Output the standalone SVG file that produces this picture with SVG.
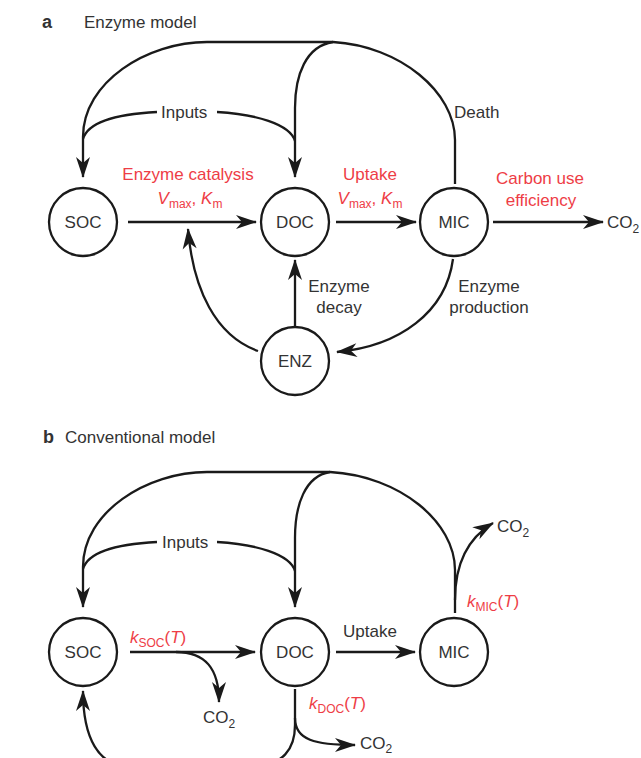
<svg xmlns="http://www.w3.org/2000/svg" width="641" height="758" viewBox="0 0 641 758">
<defs>
<marker id="ah" markerUnits="userSpaceOnUse" viewBox="-22 -8 24 16" markerWidth="24" markerHeight="16" refX="0" refY="0" orient="auto">
<path d="M1,0 L-20,-7 L-14,0 L-20,7 Z" fill="#1a1a1a"/>
</marker>
</defs>
<style>
text{font-family:"Liberation Sans",Arial,sans-serif;font-size:17px;fill:#333;}
.red{fill:#ee3d46;}
.sub{font-size:12px;}
.it{font-style:italic;}
.bold{font-weight:bold;font-size:18px;}
.mid{text-anchor:middle;}
.node circle{fill:#fff;stroke:#1a1a1a;stroke-width:2.3;}
.conn path{fill:none;stroke:#1a1a1a;stroke-width:2.3;}
.arr{marker-end:url(#ah);}
</style>
<rect width="641" height="758" fill="#fff"/>

<!-- Panel titles -->
<text x="42" y="28" class="bold">a</text>
<text x="84" y="28">Enzyme model</text>
<text x="43" y="443" class="bold">b</text>
<text x="65" y="443">Conventional model</text>

<!-- Connectors -->
<g id="connectors" class="conn">
<!-- panel a -->
<path class="arr" d="M333,42 H207 C147,42 83,82 83,137 V177"/>
<path d="M157,112 C118,114 88,122 83,139"/>
<path d="M217,112 C255,114 290,124 295,141"/>
<path class="arr" d="M333,42 C306,46 295,75 295,108 V177"/>
<path d="M333,42 C400,46 455,92 455,140 V184"/>
<path class="arr" d="M128,222 H256"/>
<path class="arr" d="M336,222 H416"/>
<path class="arr" d="M493,222 H603"/>
<path class="arr" d="M258,351 C216,336 193,290 188,229"/>
<path class="arr" d="M295,326 V260"/>
<path class="arr" d="M453,259 C446,312 400,346 337,352"/>
<!-- panel b -->
<path class="arr" d="M330,472 H207 C147,472 83,512 83,567 V607"/>
<path d="M157,542 C118,544 88,552 83,569"/>
<path d="M217,542 C255,544 290,554 295,571"/>
<path class="arr" d="M330,472 C305,476 295,505 295,538 V607"/>
<path d="M330,472 C400,476 455,522 455,570 V613"/>
<path class="arr" d="M455,600 C455,562 468,538 493,523"/>
<path class="arr" d="M130,652 H255"/>
<path class="arr" d="M176,652 C205,652 219,668 219,702"/>
<path class="arr" d="M336,652 H415"/>
<path class="arr" d="M295,689 V725 C295,750 282,765 256,765 H125 C100,765 83,740 83,691"/>
<path class="arr" d="M295,718 C295,740 315,745 355,745"/>
</g>

<!-- Nodes panel a -->
<g id="a-soc" class="node"><circle cx="83" cy="222" r="34"/><text x="83" y="228" class="mid">SOC</text></g>
<g id="a-doc" class="node"><circle cx="295" cy="222" r="34"/><text x="295" y="228" class="mid">DOC</text></g>
<g id="a-mic" class="node"><circle cx="454" cy="222" r="34"/><text x="454" y="228" class="mid">MIC</text></g>
<g id="a-enz" class="node"><circle cx="295" cy="361" r="34"/><text x="295" y="367" class="mid">ENZ</text></g>

<!-- Nodes panel b -->
<g id="b-soc" class="node"><circle cx="83" cy="652" r="34"/><text x="83" y="658" class="mid">SOC</text></g>
<g id="b-doc" class="node"><circle cx="295" cy="652" r="34"/><text x="295" y="658" class="mid">DOC</text></g>
<g id="b-mic" class="node"><circle cx="454" cy="652" r="34"/><text x="454" y="658" class="mid">MIC</text></g>

<!-- Labels panel a -->
<g id="labels-a">
<text x="161" y="118">Inputs</text>
<text x="454" y="118">Death</text>
<text x="188" y="180" class="mid red">Enzyme catalysis</text>
<text x="190" y="204" class="mid red"><tspan class="it">V</tspan><tspan class="sub" dy="4">max</tspan><tspan dy="-4">, </tspan><tspan class="it">K</tspan><tspan class="sub" dy="4">m</tspan></text>
<text x="370" y="180" class="mid red">Uptake</text>
<text x="370" y="204" class="mid red"><tspan class="it">V</tspan><tspan class="sub" dy="4">max</tspan><tspan dy="-4">, </tspan><tspan class="it">K</tspan><tspan class="sub" dy="4">m</tspan></text>
<text x="540" y="184" class="mid red">Carbon use</text>
<text x="541" y="206" class="mid red">efficiency</text>
<text x="607" y="228">CO<tspan class="sub" dy="5">2</tspan></text>
<text x="339" y="292" class="mid">Enzyme</text>
<text x="339" y="313" class="mid">decay</text>
<text x="489" y="292" class="mid">Enzyme</text>
<text x="489" y="313" class="mid">production</text>
</g>

<!-- Labels panel b -->
<g id="labels-b">
<text x="162" y="548">Inputs</text>
<text x="130" y="643" class="red"><tspan class="it">k</tspan><tspan class="sub" dy="4">SOC</tspan><tspan dy="-4">(</tspan><tspan class="it">T</tspan>)</text>
<text x="203" y="723">CO<tspan class="sub" dy="5">2</tspan></text>
<text x="343" y="637">Uptake</text>
<text x="467" y="607" class="red"><tspan class="it">k</tspan><tspan class="sub" dy="4">MIC</tspan><tspan dy="-4">(</tspan><tspan class="it">T</tspan>)</text>
<text x="497" y="532">CO<tspan class="sub" dy="5">2</tspan></text>
<text x="309" y="709" class="red"><tspan class="it">k</tspan><tspan class="sub" dy="4">DOC</tspan><tspan dy="-4">(</tspan><tspan class="it">T</tspan>)</text>
<text x="360" y="749">CO<tspan class="sub" dy="4">2</tspan></text>
</g>
</svg>
